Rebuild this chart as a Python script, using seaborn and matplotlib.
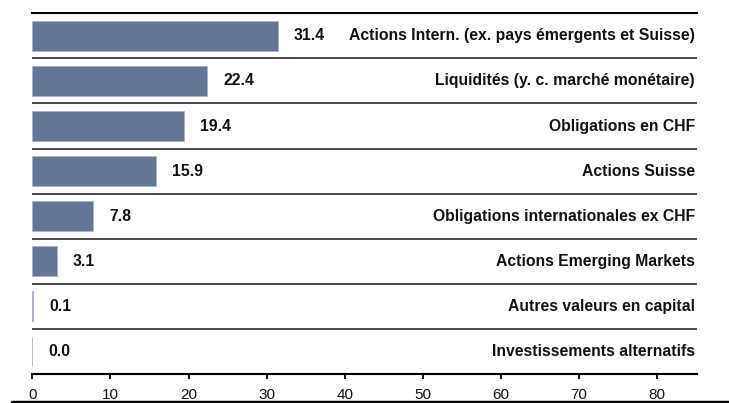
import matplotlib
matplotlib.use("Agg")
import matplotlib.pyplot as plt
import seaborn as sns
import pandas as pd

categories = [
    "Actions Intern. (ex. pays émergents et Suisse)",
    "Liquidités (y. c. marché monétaire)",
    "Obligations en CHF",
    "Actions Suisse",
    "Obligations internationales ex CHF",
    "Actions Emerging Markets",
    "Autres valeurs en capital",
    "Investissements alternatifs",
]
values = [31.4, 22.4, 19.4, 15.9, 7.8, 3.1, 0.1, 0.0]
x_ticks = [0, 10, 20, 30, 40, 50, 60, 70, 80]

sns.set_theme(style="white")
plt.rcParams["font.family"] = ["Liberation Sans", "DejaVu Sans"]

df = pd.DataFrame({"categorie": categories, "part": values})

W, H = 729, 403
fig = plt.figure(figsize=(W / 100, H / 100), dpi=100)
ax = fig.add_axes([32.3 / W, 1 - 374 / H, (697 - 32.3) / W, (374 - 13.3) / H])

sns.barplot(data=df, x="part", y="categorie", orient="h", color="#657596",
            saturation=1, width=0.66, ax=ax)
for p in ax.patches:
    p.set_edgecolor("#aab3c9")
    p.set_linewidth(0.6)

ax.set_xlim(0, 85.1)
ax.set_ylim(len(categories) - 0.5, -0.5)

# row separators
for i in range(1, len(categories)):
    ax.axhline(i - 0.5, color="#3a3a3a", lw=1.3, zorder=3)

for s in ["right", "left"]:
    ax.spines[s].set_visible(False)
for s in ["top", "bottom"]:
    ax.spines[s].set_visible(True)
    ax.spines[s].set_color("black")
    ax.spines[s].set_linewidth(1.5)

ax.set_yticks([])
ax.set_ylabel("")
ax.set_xlabel("")
ax.set_xticks(x_ticks)
ax.set_xticklabels([str(t) for t in x_ticks], fontsize=11, color="#111111")
ax.tick_params(axis="x", direction="out", length=3.5, width=1.3, color="black",
               pad=6.5, bottom=True)

for i, (cat, v) in enumerate(zip(categories, values)):
    ax.annotate(f"{v:.1f}", xy=(v, i), xytext=(16, 0), textcoords="offset pixels",
                va="center", ha="left", fontsize=11.3, fontweight="bold", color="#111111")
    ax.text(0.997, i, cat, transform=ax.get_yaxis_transform(), ha="right",
            va="center", fontsize=11.3, fontweight="bold", color="#111111")

# heavy rule along the bottom edge
fig.add_artist(plt.Line2D([12 / W, 1], [1 - 401.5 / H, 1 - 401.5 / H],
                          color="black", lw=2.5, transform=fig.transFigure))

fig.savefig("out.png", dpi=100)
